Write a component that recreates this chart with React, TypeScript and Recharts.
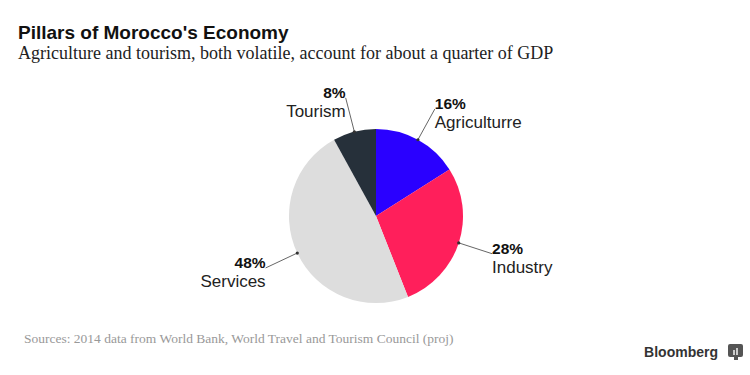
import { PieChart, Pie, Cell } from 'recharts'

const sectors = ['Agriculturre', 'Industry', 'Services', 'Tourism']
const shares = [16, 28, 48, 8]
const colors = ['#2a00ff', '#ff1f5b', '#dddddd', '#26303a']

const data = sectors.map((name, i) => ({ name, value: shares[i] }))

const RAD = Math.PI / 180
const SANS = '"Liberation Sans", Arial, sans-serif'
const SERIF = '"Liberation Serif", "Times New Roman", serif'

function SliceLabel({ cx, cy, midAngle, outerRadius, name, value }: any) {
  const cos = Math.cos(-midAngle * RAD)
  const sin = Math.sin(-midAngle * RAD)
  const sx = cx + outerRadius * cos
  const sy = cy + outerRadius * sin
  const ex = cx + (outerRadius + 35) * cos
  const ey = cy + (outerRadius + 35) * sin
  const anchor = cos >= 0 ? 'start' : 'end'
  return (
    <g>
      <line x1={sx} y1={sy} x2={ex} y2={ey} stroke="#666" strokeWidth={1} />
      <circle cx={sx} cy={sy} r={1.6} fill="#333" />
      <text x={ex} y={ey} textAnchor={anchor} fontFamily={SANS} fontSize={15.5} fontWeight={700} fill="#111">
        {value}%
      </text>
      <text x={ex} y={ey + 19} textAnchor={anchor} fontFamily={SANS} fontSize={17} fill="#222">
        {name}
      </text>
    </g>
  )
}

export default function App() {
  return (
    <div style={{ position: 'absolute', left: 0, top: 0, width: 750, height: 375, background: '#fff' }}>
      <PieChart width={750} height={375} margin={{ top: 0, right: 0, bottom: 0, left: 0 }}>
        <Pie
          data={data}
          dataKey="value"
          nameKey="name"
          cx={376}
          cy={216}
          outerRadius={87}
          startAngle={90}
          endAngle={-270}
          stroke="none"
          label={SliceLabel}
          labelLine={false}
          isAnimationActive={false}
        >
          {data.map((d, i) => (
            <Cell key={d.name} fill={colors[i]} />
          ))}
        </Pie>
      </PieChart>
      <svg width={750} height={375} style={{ position: 'absolute', left: 0, top: 0, pointerEvents: 'none' }}>
        <text x={18} y={39} fontFamily={SANS} fontSize={19} fontWeight={700} fill="#111">
          Pillars of Morocco's Economy
        </text>
        <text x={18} y={59} fontFamily={SERIF} fontSize={18} fill="#222">
          Agriculture and tourism, both volatile, account for about a quarter of GDP
        </text>
        <text x={24} y={343} fontFamily={SERIF} fontSize={13.5} fill="#999">
          Sources: 2014 data from World Bank, World Travel and Tourism Council (proj)
        </text>
        <text x={718} y={357} textAnchor="end" fontFamily={SANS} fontSize={14} fontWeight={700} fill="#333">
          Bloomberg
        </text>
        <rect x={728} y={344} width={15} height={13} rx={2} fill="#555" />
        <rect x={734} y={357} width={4} height={3} fill="#555" />
        <rect x={733} y={350} width={2} height={5} fill="#ccc" />
        <rect x={736} y={348} width={2} height={7} fill="#ccc" />
      </svg>
    </div>
  )
}
